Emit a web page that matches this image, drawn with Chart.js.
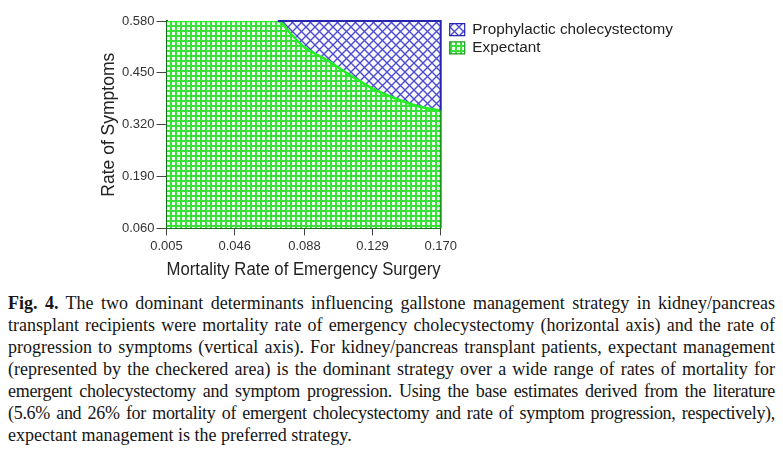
<!DOCTYPE html>
<html>
<head>
<meta charset="utf-8">
<script src="https://cdn.jsdelivr.net/npm/chart.js@4.4.1/dist/chart.umd.min.js"></script>
<style>
  body { margin: 0; background: #fff; }
  #wrap { width: 783px; height: 289px; }
  #caption { margin: 3px 8px 0 8px; font-family: "Liberation Serif", serif; font-size: 18px; color: #151515; line-height: 22px; }
  #caption div { text-align: justify; text-align-last: justify; white-space: nowrap; }
  #caption div.tight { letter-spacing: -0.3px; word-spacing: -1px; }
  #caption div.last { text-align-last: left; }
</style>
</head>
<body>
<div id="wrap"><canvas id="mainChart" width="783" height="289"></canvas></div>
<div id="caption">
  <div><b>Fig. 4.</b> The two dominant determinants influencing gallstone management strategy in kidney/pancreas</div>
  <div>transplant recipients were mortality rate of emergency cholecystectomy (horizontal axis) and the rate of</div>
  <div>progression to symptoms (vertical axis). For kidney/pancreas transplant patients, expectant management</div>
  <div>(represented by the checkered area) is the dominant strategy over a wide range of rates of mortality for</div>
  <div class="tight">emergent cholecystectomy and symptom progression. Using the base estimates derived from the literature</div>
  <div class="tight">(5.6% and 26% for mortality of emergent cholecystectomy and rate of symptom progression, respectively),</div>
  <div class="last">expectant management is the preferred strategy.</div>
</div>
<script>
var xTicks = [0.005, 0.046, 0.088, 0.129, 0.170],
  yTicks = [0.060, 0.190, 0.320, 0.450, 0.580];

// threshold line between the two strategies
var boundaryX = [0.005, 0.072, 0.080, 0.088, 0.102, 0.114, 0.128, 0.142, 0.156, 0.170],
  boundaryY = [0.580, 0.580, 0.547, 0.514, 0.481, 0.448, 0.413, 0.387, 0.367, 0.355];

var ctx = document.getElementById('mainChart');
var g2d = ctx.getContext('2d');

function gridPattern () {
  var c = document.createElement('canvas');
  c.width = 5; c.height = 5;
  var g = c.getContext('2d');
  g.fillStyle = '#f2fff2';
  g.fillRect(0, 0, 5, 5);
  g.fillStyle = '#3ae03a';
  g.fillRect(0, 0, 5, 2);
  g.fillRect(0, 0, 2, 5);
  return g2d.createPattern(c, 'repeat');
}

function hatchPattern () {
  var c = document.createElement('canvas');
  c.width = 9; c.height = 9;
  var g = c.getContext('2d');
  g.fillStyle = '#fbfbff';
  g.fillRect(0, 0, 9, 9);
  g.strokeStyle = '#4c4cd0';
  g.lineWidth = 1.4;
  g.beginPath();
  g.moveTo(-1, -1); g.lineTo(10, 10);
  g.moveTo(10, -1); g.lineTo(-1, 10);
  g.stroke();
  return g2d.createPattern(c, 'repeat');
}

function points (xs, ys) {
  return xs.map(function (x, i) { return { x: x, y: ys[i] }; });
}

var edgePlugin = {
  id: 'edges',
  afterLayout: function (chart) {
    // nudge legend a bit to sit like the original
    chart.legend.top -= 2;
    chart.legend.bottom -= 2;
    chart.legend.left += 6;
    chart.legend.right += 6;
  },
  afterDatasetsDraw: function (chart) {
    var a = chart.chartArea, c = chart.ctx;
    var xSplit = chart.scales.x.getPixelForValue(boundaryX[1]);
    var ySplit = chart.scales.y.getPixelForValue(boundaryY[boundaryY.length - 1]);
    c.save();
    c.lineWidth = 2;
    c.strokeStyle = '#2525b0';
    c.beginPath();
    c.moveTo(xSplit, a.top);
    c.lineTo(a.right, a.top);
    c.lineTo(a.right, ySplit);
    c.stroke();
    c.strokeStyle = '#1a9a1a';
    c.beginPath();
    c.moveTo(a.right, ySplit);
    c.lineTo(a.right, a.bottom);
    c.stroke();
    c.restore();
  }
};

var font = 'Liberation Sans, Arial, sans-serif';

new Chart(ctx, {
  type: 'line',
  data: {
    datasets: [{
      label: 'Prophylactic cholecystectomy',
      data: points(boundaryX.slice(1), boundaryY.slice(1)),
      backgroundColor: hatchPattern(),
      borderColor: '#2525b0',
      borderWidth: 0,
      fill: 'end',
      pointRadius: 0,
      cubicInterpolationMode: 'monotone'
    }, {
      label: 'Expectant',
      data: points(boundaryX, boundaryY),
      backgroundColor: gridPattern(),
      borderColor: '#22ee22',
      borderWidth: 2.5,
      fill: 'start',
      pointRadius: 0,
      cubicInterpolationMode: 'monotone'
    }]
  },
  options: {
    responsive: false,
    animation: false,
    layout: { padding: { left: 95, top: 21, right: 106, bottom: 4 } },
    plugins: {
      filler: { drawTime: 'beforeDatasetsDraw' },
      tooltip: { enabled: false },
      legend: {
        position: 'right',
        align: 'start',
        maxWidth: 400,
        labels: {
          boxWidth: 15,
          boxHeight: 12,
          padding: 3,
          color: '#222',
          font: { family: font, size: 15.3 },
          generateLabels: function (chart) {
            var items = Chart.defaults.plugins.legend.labels.generateLabels(chart);
            items[0].strokeStyle = '#2525b0';
            items[1].strokeStyle = '#1a9a1a';
            items.forEach(function (it) { it.lineWidth = 1.2; });
            return items;
          }
        }
      }
    },
    scales: {
      x: {
        type: 'linear',
        min: 0.005,
        max: 0.170,
        afterBuildTicks: function (s) { s.ticks = xTicks.map(function (v) { return { value: v }; }); },
        ticks: {
          color: '#333',
          font: { family: font, size: 13 },
          padding: 3,
          maxRotation: 0,
          callback: function (v) { return v.toFixed(3); }
        },
        grid: { drawOnChartArea: false, tickLength: 7, color: '#444', lineWidth: 1 },
        border: { color: '#0b5e0b', width: 2 },
        title: { display: true, text: 'Mortality Rate of Emergency Surgery', color: '#222', font: { family: font, size: 17.5 }, padding: { top: 3 } }
      },
      y: {
        type: 'linear',
        min: 0.060,
        max: 0.580,
        afterBuildTicks: function (s) { s.ticks = yTicks.map(function (v) { return { value: v }; }); },
        ticks: {
          color: '#333',
          font: { family: font, size: 13 },
          padding: 2,
          callback: function (v) { return v.toFixed(3); }
        },
        grid: { drawOnChartArea: false, tickLength: 10, color: '#444', lineWidth: 1 },
        border: { color: '#0b5e0b', width: 2 },
        title: { display: true, text: 'Rate of Symptoms', color: '#222', font: { family: font, size: 17.5 }, padding: { bottom: 0 } }
      }
    }
  },
  plugins: [edgePlugin]
});
</script>
</body>
</html>
